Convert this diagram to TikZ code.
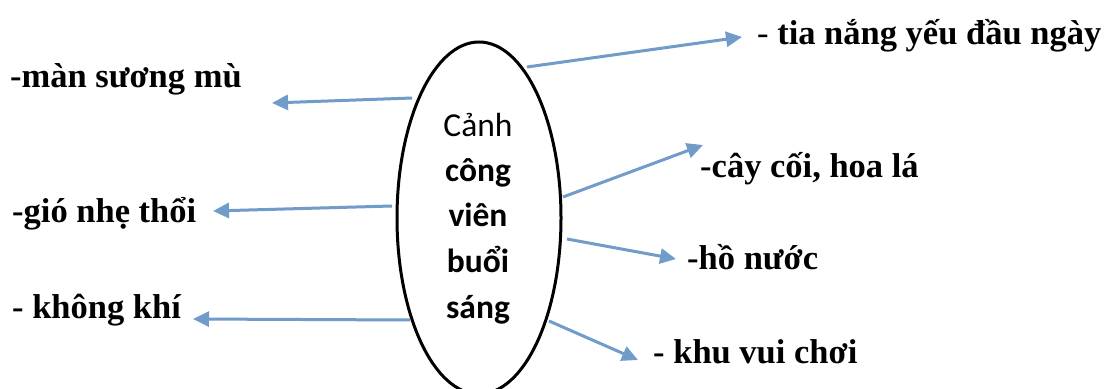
\documentclass[tikz,border=0pt]{standalone}
\usepackage{fontspec}
\setmainfont{Liberation Serif}
\newfontfamily\carl{Carlito}
\usetikzlibrary{arrows.meta,shapes.geometric}
\definecolor{arrblue}{RGB}{113,155,201}
\tikzset{
  arr/.style={draw=arrblue, line width=3pt, -{Triangle[length=16pt,width=15pt]}},
  lbl/.style={anchor=base west, inner sep=0pt, font=\fontsize{34.5}{40}\selectfont\bfseries},
  etxt/.style={anchor=base, inner sep=0pt, font=\carl\fontsize{33.5}{38}\selectfont},
  ebold/.style={etxt, font=\carl\fontsize{33.5}{38}\selectfont\bfseries},
  oval/.style={ellipse, draw=black, line width=3pt, minimum width=164pt, minimum height=352pt, inner sep=0pt}
}
\begin{document}
\begin{tikzpicture}[x=1pt,y=1pt]
\useasboundingbox (0,0) rectangle (1107,388);
\fill[white] (0,0) rectangle (1107,388);
% central ellipse
\node[oval] (ell) at (479,170) {};
\node[etxt] (e1) at (478,251) {Cảnh};
\node[ebold] (e2) at (478,206) {công};
\node[ebold] (e3) at (478,161) {viên};
\node[ebold] (e4) at (478,115) {buổi};
\node[ebold] (e5) at (478,70) {sáng};
% labels
\node[lbl] (tia) at (757,343) {{\mdseries -} tia nắng yếu đầu ngày};
\node[lbl] (man) at (10,300) {-màn sương mù};
\node[lbl] (cay) at (700,210) {-cây cối, hoa lá};
\node[lbl] (gio) at (12,165) {-gió nhẹ thổi};
\node[lbl] (ho) at (687,118) {-hồ nước};
\node[lbl] (kk) at (12,70) {- không khí};
\node[lbl] (khu) at (653,25) {- khu vui chơi};
% connector ends
\coordinate (s1) at (527,321); \coordinate (t1) at (742,351);
\coordinate (s2) at (412,290); \coordinate (t2) at (272,285);
\coordinate (s3) at (392,182); \coordinate (t3) at (213,177);
\coordinate (s4) at (410,68);  \coordinate (t4) at (193,69);
\coordinate (s5) at (563,191); \coordinate (t5) at (703,243);
\coordinate (s6) at (567,149); \coordinate (t6) at (676,129);
\coordinate (s7) at (549,67);  \coordinate (t7) at (638,28);
\draw[arr] (s1) -- (t1);
\draw[arr] (s2) -- (t2);
\draw[arr] (s3) -- (t3);
\draw[arr] (s4) -- (t4);
\draw[arr] (s5) -- (t5);
\draw[arr] (s6) -- (t6);
\draw[arr] (s7) -- (t7);
\end{tikzpicture}
\end{document}
